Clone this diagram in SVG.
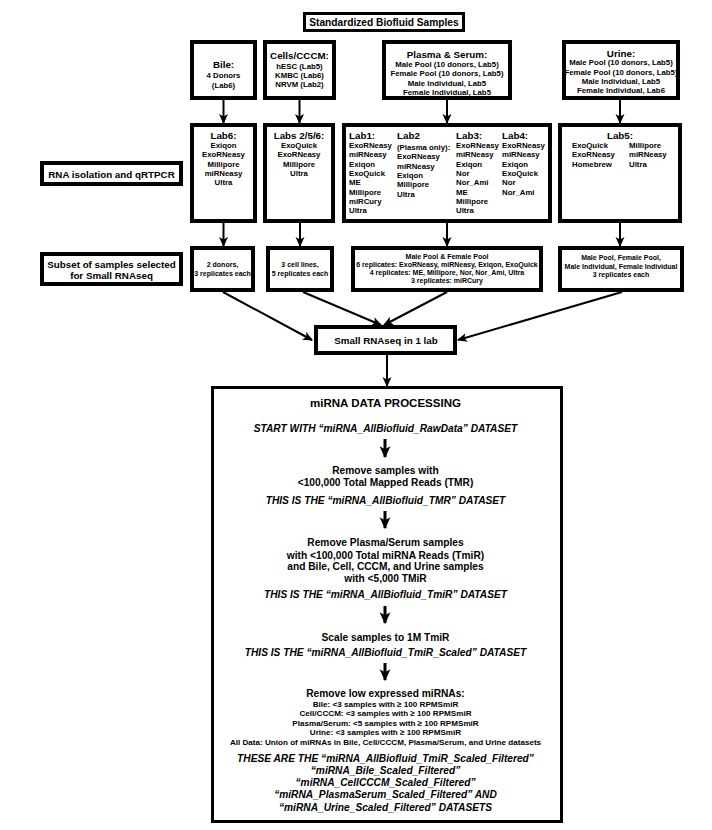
<svg xmlns="http://www.w3.org/2000/svg" width="712" height="830" viewBox="0 0 712 830">
<style>
text{font-family:"Liberation Sans",Arial,sans-serif;font-weight:bold;text-anchor:middle;fill:#000}
.h{font-size:9.8px}
.s{font-size:7.8px}
.xs{font-size:7px}
.m{font-size:10.2px}
.t{font-size:11.5px}
.f{font-size:8.1px}
.i{font-style:italic}
.l{text-anchor:start}
rect{fill:#fff;stroke:#000;stroke-width:4}
.thin{stroke-width:3}
.c line{stroke:#000;stroke-width:2;fill:none}
.c line.k{stroke-width:3}
</style>
<defs>
<marker id="ah" markerUnits="userSpaceOnUse" markerWidth="10" markerHeight="10" viewBox="0 0 10 10" refX="9" refY="5" orient="auto">
<path d="M0,0.5 L10,5 L0,9.5 L2.5,5 z" fill="#000"/>
</marker>
<marker id="ahb" markerUnits="userSpaceOnUse" markerWidth="12" markerHeight="12" viewBox="0 0 10 10" refX="9" refY="5" orient="auto">
<path d="M0,0.5 L10,5 L0,9.5 L2.5,5 z" fill="#000"/>
</marker>
</defs>
<rect x="0" y="0" width="712" height="830" style="fill:#fff;stroke:none"/>

<g id="title">
<rect class="thin" x="304.5" y="13.5" width="159" height="17"/>
<text class="m" x="384" y="25.8">Standardized Biofluid Samples</text>
</g>

<g id="bile">
<rect x="192" y="42" width="63" height="56"/>
<text class="h" x="223.5" y="67.5">Bile:</text>
<text class="s" x="223.5" y="77.8">4 Donors</text>
<text class="s" x="223.5" y="87.8">(Lab6)</text>
</g>

<g id="cells">
<rect x="265" y="42" width="69" height="56"/>
<text class="h" x="299.5" y="58.5">Cells/CCCM:</text>
<text class="s" x="299.5" y="68.8">hESC (Lab5)</text>
<text class="s" x="299.5" y="77.8">KMBC (Lab6)</text>
<text class="s" x="299.5" y="86.8">NRVM (Lab2)</text>
</g>

<g id="plasma">
<rect x="384" y="42" width="126" height="56"/>
<text class="h" x="447" y="57.5">Plasma &amp; Serum:</text>
<text class="s" x="447" y="66.8">Male Pool (10 donors, Lab5)</text>
<text class="s" x="447" y="76">Female Pool (10 donors, Lab5)</text>
<text class="s" x="447" y="85.5">Male Individual, Lab5</text>
<text class="s" x="447" y="94.5">Female Individual, Lab5</text>
</g>

<g id="urine">
<rect x="564" y="42" width="114" height="56"/>
<text class="h" x="621" y="56.5">Urine:</text>
<text class="s" x="621" y="65">Male Pool (10 donors, Lab5)</text>
<text class="s" x="621" y="74.5">Female Pool (10 donors, Lab5)</text>
<text class="s" x="621" y="83.8">Male Individual, Lab5</text>
<text class="s" x="621" y="92.8">Female Individual, Lab6</text>
</g>

<g id="rna-label">
<rect x="42" y="163" width="139" height="21"/>
<text class="h" x="111.5" y="177.5">RNA isolation and qRTPCR</text>
</g>

<g id="lab6">
<rect x="192" y="125" width="63" height="96"/>
<text class="h" x="223.5" y="138.5">Lab6:</text>
<text class="s" x="223.5" y="147.8">Exiqon</text>
<text class="s" x="223.5" y="157.1">ExoRNeasy</text>
<text class="s" x="223.5" y="166.5">Millipore</text>
<text class="s" x="223.5" y="175.8">miRNeasy</text>
<text class="s" x="223.5" y="185.1">Ultra</text>
</g>

<g id="labs256">
<rect x="265" y="125" width="68" height="96"/>
<text class="h" x="299" y="138.5">Labs 2/5/6:</text>
<text class="s" x="299" y="147.8">ExoQuick</text>
<text class="s" x="299" y="157.1">ExoRNeasy</text>
<text class="s" x="299" y="166.5">Millipore</text>
<text class="s" x="299" y="175.8">Ultra</text>
</g>

<g id="plasma-labs">
<rect x="344" y="125" width="206" height="96"/>
<text class="h l" x="349" y="139">Lab1:</text>
<text class="s l" x="349" y="148">ExoRNeasy</text>
<text class="s l" x="349" y="157.4">miRNeasy</text>
<text class="s l" x="349" y="166.7">Exiqon</text>
<text class="s l" x="349" y="176">ExoQuick</text>
<text class="s l" x="349" y="185.4">ME</text>
<text class="s l" x="349" y="194.7">Millipore</text>
<text class="s l" x="349" y="204">miRCury</text>
<text class="s l" x="349" y="213.4">Ultra</text>
<text class="h l" x="397" y="139">Lab2</text>
<text class="s l" x="397" y="149.5">(Plasma only):</text>
<text class="s l" x="397" y="159.4">ExoRNeasy</text>
<text class="s l" x="397" y="168.7">miRNeasy</text>
<text class="s l" x="397" y="178">Exiqon</text>
<text class="s l" x="397" y="187.4">Millipore</text>
<text class="s l" x="397" y="196.7">Ultra</text>
<text class="h l" x="456" y="139">Lab3:</text>
<text class="s l" x="456" y="148">ExoRNeasy</text>
<text class="s l" x="456" y="157.4">miRNeasy</text>
<text class="s l" x="456" y="166.7">Exiqon</text>
<text class="s l" x="456" y="176">Nor</text>
<text class="s l" x="456" y="185.4">Nor_Ami</text>
<text class="s l" x="456" y="194.7">ME</text>
<text class="s l" x="456" y="204">Millipore</text>
<text class="s l" x="456" y="213.4">Ultra</text>
<text class="h l" x="502" y="139">Lab4:</text>
<text class="s l" x="502" y="148">ExoRNeasy</text>
<text class="s l" x="502" y="157.4">miRNeasy</text>
<text class="s l" x="502" y="166.7">Exiqon</text>
<text class="s l" x="502" y="176">ExoQuick</text>
<text class="s l" x="502" y="185.4">Nor</text>
<text class="s l" x="502" y="194.7">Nor_Ami</text>
</g>

<g id="lab5">
<rect x="560" y="125" width="120" height="96"/>
<text class="h" x="620" y="138.5">Lab5:</text>
<text class="s l" x="572" y="147.8">ExoQuick</text>
<text class="s l" x="572" y="157.1">ExoRNeasy</text>
<text class="s l" x="572" y="166.5">Homebrew</text>
<text class="s l" x="629" y="147.8">Millipore</text>
<text class="s l" x="629" y="157.1">miRNeasy</text>
<text class="s l" x="629" y="166.5">Ultra</text>
</g>

<g id="subset-label">
<rect x="42" y="254" width="139" height="30"/>
<text class="h" x="111.5" y="267.5">Subset of samples selected</text>
<text class="h" x="111.5" y="278.5">for Small RNAseq</text>
</g>

<g id="bile-subset">
<rect x="192" y="248" width="61" height="42"/>
<text class="xs" x="222.5" y="266.5">2 donors,</text>
<text class="xs" x="222.5" y="275.5">3 replicates each</text>
</g>

<g id="cells-subset">
<rect x="268" y="248" width="64" height="42"/>
<text class="xs" x="300" y="266.5">3 cell lines,</text>
<text class="xs" x="300" y="275.5">5 replicates each</text>
</g>

<g id="plasma-subset">
<rect x="353" y="248" width="188" height="42"/>
<text class="xs" x="447" y="259.2">Male Pool &amp; Female Pool</text>
<text class="xs" x="447" y="267.2">6 replicates: ExoRNeasy, miRNeasy, Exiqon, ExoQuick</text>
<text class="xs" x="447" y="275.3">4 replicates: ME, Millipore, Nor, Nor_Ami, Ultra</text>
<text class="xs" x="447" y="283.3">3 replicates: miRCury</text>
</g>

<g id="urine-subset">
<rect x="560" y="248" width="122" height="42"/>
<text class="xs" x="621" y="260.2">Male Pool, Female Pool,</text>
<text class="xs" x="621" y="268.5">Male Individual, Female Individual</text>
<text class="xs" x="621" y="277">3 replicates each</text>
</g>

<g id="small-rnaseq">
<rect x="316" y="327" width="139" height="26"/>
<text class="h" x="386" y="343.5">Small RNAseq in 1 lab</text>
</g>

<g id="processing">
<rect class="thin" x="212.5" y="387.5" width="349" height="434"/>
<text class="t" x="385.5" y="407">miRNA DATA PROCESSING</text>
<text class="m i" x="385.5" y="432">START WITH “miRNA_AllBiofluid_RawData” DATASET</text>
<text class="m" x="385.5" y="474">Remove samples with</text>
<text class="m" x="385.5" y="485.5">&lt;100,000 Total Mapped Reads (TMR)</text>
<text class="m i" x="385.5" y="504">THIS IS THE “miRNA_AllBiofluid_TMR” DATASET</text>
<text class="m" x="385.5" y="546">Remove Plasma/Serum samples</text>
<text class="m" x="385.5" y="559">with &lt;100,000 Total miRNA Reads (TmiR)</text>
<text class="m" x="385.5" y="570">and Bile, Cell, CCCM, and Urine samples</text>
<text class="m" x="385.5" y="582">with &lt;5,000 TMiR</text>
<text class="m i" x="385.5" y="598">THIS IS THE “miRNA_AllBiofluid_TmiR” DATASET</text>
<text class="m" x="385.5" y="641">Scale samples to 1M TmiR</text>
<text class="m i" x="385.5" y="656">THIS IS THE “miRNA_AllBiofluid_TmiR_Scaled” DATASET</text>
<text class="m" x="385.5" y="697">Remove low expressed miRNAs:</text>
<text class="f" x="385.5" y="707">Bile: &lt;3 samples with ≥ 100 RPMSmiR</text>
<text class="f" x="385.5" y="716.3">Cell/CCCM: &lt;3 samples with ≥ 100 RPMSmiR</text>
<text class="f" x="385.5" y="726">Plasma/Serum: &lt;5 samples with ≥ 100 RPMSmiR</text>
<text class="f" x="385.5" y="735.3">Urine: &lt;3 samples with ≥ 100 RPMSmiR</text>
<text class="f" x="385.5" y="745">All Data: Union of miRNAs in Bile, Cell/CCCM, Plasma/Serum, and Urine datasets</text>
<text class="m i" x="385.5" y="762">THESE ARE THE “miRNA_AllBiofluid_TmiR_Scaled_Filtered”</text>
<text class="m i" x="385.5" y="774">“miRNA_Bile_Scaled_Filtered”</text>
<text class="m i" x="385.5" y="786">“miRNA_CellCCCM_Scaled_Filtered”</text>
<text class="m i" x="385.5" y="798">“miRNA_PlasmaSerum_Scaled_Filtered” AND</text>
<text class="m i" x="385.5" y="811">“miRNA_Urine_Scaled_Filtered” DATASETS</text>
</g>

<g id="connectors" class="c">
<line x1="223.5" y1="100" x2="223.5" y2="123" marker-end="url(#ah)"/>
<line x1="299.5" y1="100" x2="299.5" y2="123" marker-end="url(#ah)"/>
<line x1="447" y1="100" x2="447" y2="123" marker-end="url(#ah)"/>
<line x1="620" y1="100" x2="620" y2="123" marker-end="url(#ah)"/>
<line x1="223.5" y1="223" x2="223.5" y2="246" marker-end="url(#ah)"/>
<line x1="300" y1="223" x2="300" y2="246" marker-end="url(#ah)"/>
<line x1="447" y1="223" x2="447" y2="246" marker-end="url(#ah)"/>
<line x1="620" y1="223" x2="620" y2="246" marker-end="url(#ah)"/>
<line x1="223" y1="292" x2="312" y2="340" marker-end="url(#ah)"/>
<line x1="303" y1="292" x2="381" y2="325" marker-end="url(#ah)"/>
<line x1="447" y1="292" x2="384" y2="325" marker-end="url(#ah)"/>
<line x1="622" y1="292" x2="458" y2="340" marker-end="url(#ah)"/>
<line x1="387" y1="355" x2="387" y2="386" marker-end="url(#ah)"/>
<line class="k" x1="385" y1="439" x2="385" y2="457" marker-end="url(#ahb)"/>
<line class="k" x1="385" y1="511" x2="385" y2="528" marker-end="url(#ahb)"/>
<line class="k" x1="385" y1="606" x2="385" y2="623" marker-end="url(#ahb)"/>
<line class="k" x1="385" y1="663" x2="385" y2="680" marker-end="url(#ahb)"/>
</g>
</svg>
